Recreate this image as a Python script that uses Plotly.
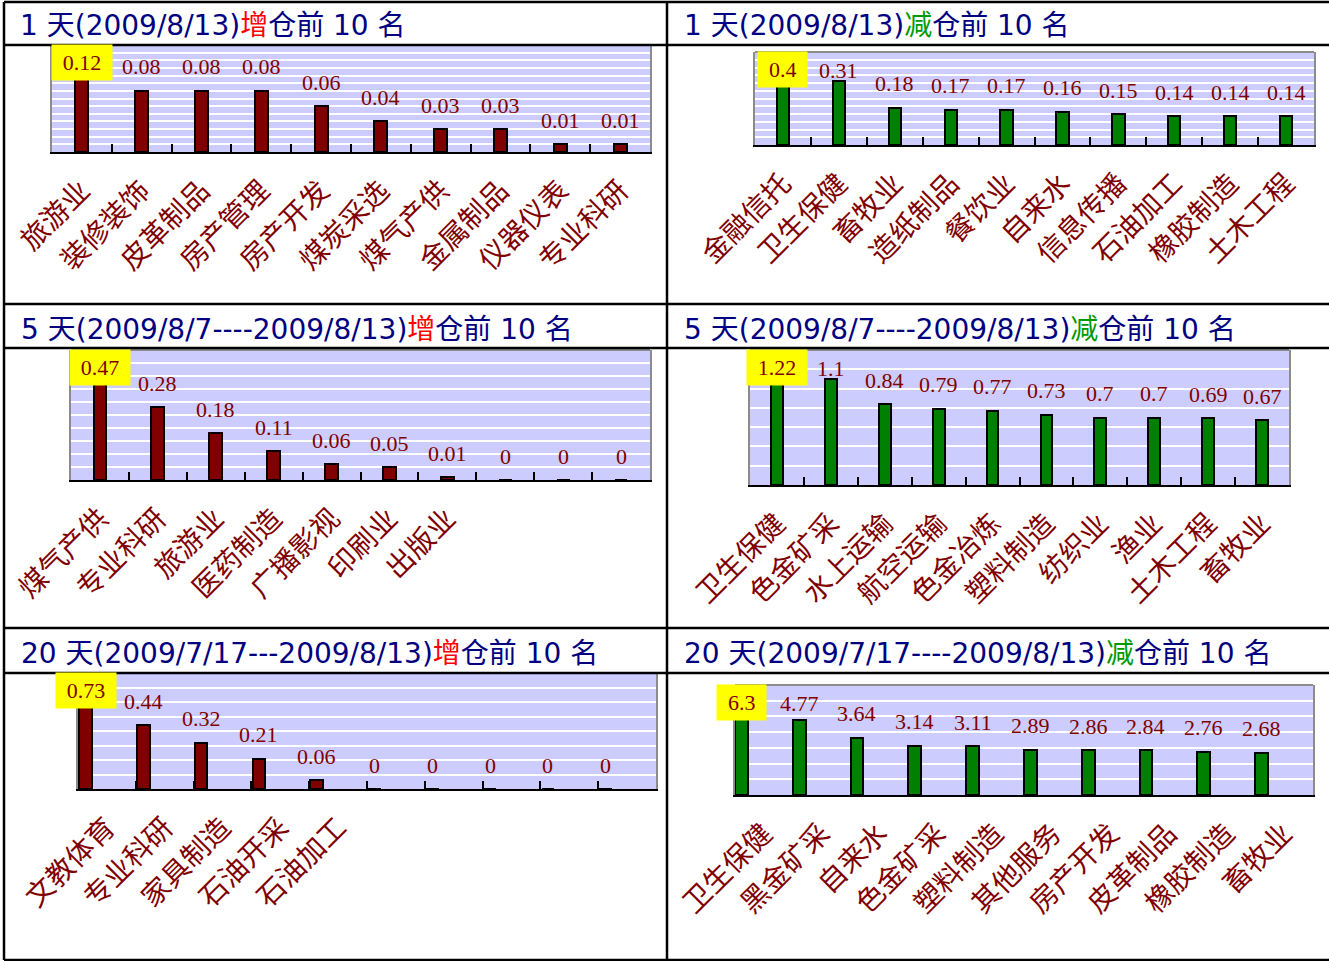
import plotly.graph_objects as go

W, H = 1329, 961

# ---------------- data ----------------
cats_1d_inc = ["旅游业", "装修装饰", "皮革制品", "房产管理", "房产开发", "煤炭采选", "煤气产供", "金属制品", "仪器仪表", "专业科研"]
vals_1d_inc = [0.12, 0.08, 0.08, 0.08, 0.06, 0.04, 0.03, 0.03, 0.01, 0.01]

cats_1d_dec = ["金融信托", "卫生保健", "畜牧业", "造纸制品", "餐饮业", "自来水", "信息传播", "石油加工", "橡胶制造", "土木工程"]
vals_1d_dec = [0.4, 0.31, 0.18, 0.17, 0.17, 0.16, 0.15, 0.14, 0.14, 0.14]

cats_5d_inc = ["煤气产供", "专业科研", "旅游业", "医药制造", "广播影视", "印刷业", "出版业", "", "", ""]
vals_5d_inc = [0.47, 0.28, 0.18, 0.11, 0.06, 0.05, 0.01, 0, 0, 0]

cats_5d_dec = ["卫生保健", "色金矿采", "水上运输", "航空运输", "色金冶炼", "塑料制造", "纺织业", "渔业", "土木工程", "畜牧业"]
vals_5d_dec = [1.22, 1.1, 0.84, 0.79, 0.77, 0.73, 0.7, 0.7, 0.69, 0.67]

cats_20d_inc = ["文教体育", "专业科研", "家具制造", "石油开采", "石油加工", "", "", "", "", ""]
vals_20d_inc = [0.73, 0.44, 0.32, 0.21, 0.06, 0, 0, 0, 0, 0]

cats_20d_dec = ["卫生保健", "黑金矿采", "自来水", "色金矿采", "塑料制造", "其他服务", "房产开发", "皮革制品", "橡胶制造", "畜牧业"]
vals_20d_dec = [6.3, 4.77, 3.64, 3.14, 3.11, 2.89, 2.86, 2.84, 2.76, 2.68]

titles = [
    ("1 天(2009/8/13)", "增", "仓前 10 名"),
    ("1 天(2009/8/13)", "减", "仓前 10 名"),
    ("5 天(2009/8/7----2009/8/13)", "增", "仓前 10 名"),
    ("5 天(2009/8/7----2009/8/13)", "减", "仓前 10 名"),
    ("20 天(2009/7/17---2009/8/13)", "增", "仓前 10 名"),
    ("20 天(2009/7/17----2009/8/13)", "减", "仓前 10 名"),
]
y_max = [0.14, 0.45, 0.5, 1.4, 0.8, 7]
y_step = [0.01, 0.0375, 0.05, 0.2, 0.1, 1]

# ---------------- styles ----------------
RED_BAR = "#800000"
GREEN_BAR = "#008000"
LABEL_C = "#800000"
TITLE_C = "#000080"
PLOT_BG = "#CCCCFF"
CJK = "Noto Sans CJK SC"
HEAD_FONT = "DejaVu Sans, Noto Sans CJK SC"
VAL_FONT = "Liberation Serif, DejaVu Serif, serif"

series = [
    (cats_1d_inc, vals_1d_inc, RED_BAR, "#FF0000"),
    (cats_1d_dec, vals_1d_dec, GREEN_BAR, "#009900"),
    (cats_5d_inc, vals_5d_inc, RED_BAR, "#FF0000"),
    (cats_5d_dec, vals_5d_dec, GREEN_BAR, "#009900"),
    (cats_20d_inc, vals_20d_inc, RED_BAR, "#FF0000"),
    (cats_20d_dec, vals_20d_dec, GREEN_BAR, "#009900"),
]
# plot areas in pixels: left, top, right, bottom
boxes = [
    (52, 45, 650, 152),
    (755, 52, 1314, 145),
    (71, 350, 650, 480),
    (750, 350, 1289, 485),
    (78, 673, 656, 789),
    (735, 685, 1313, 795),
]
bar_shift = [0, 0, 0, 0, -0.37, -0.39]
title_pos = [(18, 25), (682, 25), (19, 329), (682, 329), (19, 653), (682, 653)]

BAR_W = 0.22

fig = go.Figure()
annotations = []
shapes = []
layout = {}

for k, ((cats, vals, bcol, hcol), (l, t, r, b), ymx, dy, sh) in enumerate(
        zip(series, boxes, y_max, y_step, bar_shift)):
    n = k + 1
    xa = "x" if n == 1 else f"x{n}"
    ya = "y" if n == 1 else f"y{n}"
    idx = list(range(len(vals)))
    bar_kw = dict(width=BAR_W)
    if sh:
        bar_kw["offset"] = sh - BAR_W / 2
    fig.add_trace(go.Bar(
        x=idx, y=vals, xaxis=xa, yaxis=ya,
        marker=dict(color=bcol, line=dict(color="black", width=2)),
        hoverinfo="skip", showlegend=False, **bar_kw))

    layout["xaxis" if n == 1 else f"xaxis{n}"] = dict(
        domain=[l / W, r / W], anchor=ya, range=[-0.5, len(vals) - 0.5],
        tickmode="array", tickvals=idx, ticktext=cats, tickangle=-45,
        ticks="", showgrid=False, zeroline=False, automargin=False,
        ticklabelstandoff=9,
        tickfont=dict(family=CJK, size=28, color=LABEL_C),
        showline=True, linecolor="black", linewidth=2,
        minor=dict(tickvals=[i + 0.5 for i in idx[:-1]], ticks="inside",
                   ticklen=8, tickcolor="black", tickwidth=1.5, showgrid=False),
        fixedrange=True,
    )
    layout["yaxis" if n == 1 else f"yaxis{n}"] = dict(
        domain=[1 - b / H, 1 - t / H], anchor=xa, range=[0, ymx], dtick=dy,
        tick0=0, showticklabels=False, ticks="", showgrid=True,
        gridcolor="white", gridwidth=2, zeroline=False, automargin=False,
        showline=True, linecolor="#8c8c8c", linewidth=2, mirror=True,
        fixedrange=True,
    )
    # top border of the plot area
    shapes.append(dict(type="line", xref=f"{xa} domain", yref=f"{ya} domain",
                       x0=0, x1=1, y0=1, y1=1, line=dict(color="#8c8c8c", width=2)))

    ppu = (b - t) / ymx
    for j, v in enumerate(vals):
        txt = f"{v:g}"
        if j == 0:
            yc = ymx - 17.5 / ppu
            annotations.append(dict(
                x=j + sh, y=yc, xref=xa, yref=ya, text=txt, showarrow=False,
                yanchor="middle", xanchor="center", bgcolor="#FFFF00",
                width=len(txt) * 10.75 + 17, height=35, borderpad=0,
                font=dict(family=VAL_FONT, size=22, color=LABEL_C)))
        else:
            yc = min(v + 24 / ppu, ymx - 18 / ppu)
            annotations.append(dict(
                x=j + sh, y=yc, xref=xa, yref=ya, text=txt, showarrow=False,
                yanchor="middle", xanchor="center",
                font=dict(family=VAL_FONT, size=22, color=LABEL_C)))

# titles
for (pre, word, post), (tx, ty), (_, _, _, hcol) in zip(titles, title_pos, series):
    annotations.append(dict(
        x=tx / W, y=1 - ty / H, xref="paper", yref="paper", xanchor="left",
        yanchor="middle", showarrow=False,
        text=f"{pre}<span style='color:{hcol}'>{word}</span>{post}",
        font=dict(family=HEAD_FONT, size=28, color=TITLE_C)))

# table grid lines
for yy in [2, 45, 304, 348, 628, 673, 960]:
    shapes.append(dict(type="line", xref="paper", yref="paper", x0=4 / W, x1=1,
                       y0=1 - yy / H, y1=1 - yy / H, line=dict(color="black", width=2.5)))
for xx in [4, 667]:
    shapes.append(dict(type="line", xref="paper", yref="paper", x0=xx / W, x1=xx / W,
                       y0=1 - 960 / H, y1=1 - 2 / H, line=dict(color="black", width=2.5)))

fig.update_layout(
    width=W, height=H, autosize=False,
    margin=dict(l=0, r=0, t=0, b=0, pad=0, autoexpand=False),
    paper_bgcolor="white", plot_bgcolor=PLOT_BG,
    bargap=0, annotations=annotations, shapes=shapes,
    **layout,
)

fig.write_html("out.html", config={"displayModeBar": False},
               post_script="document.body.style.margin='0';document.body.style.overflow='hidden';")
